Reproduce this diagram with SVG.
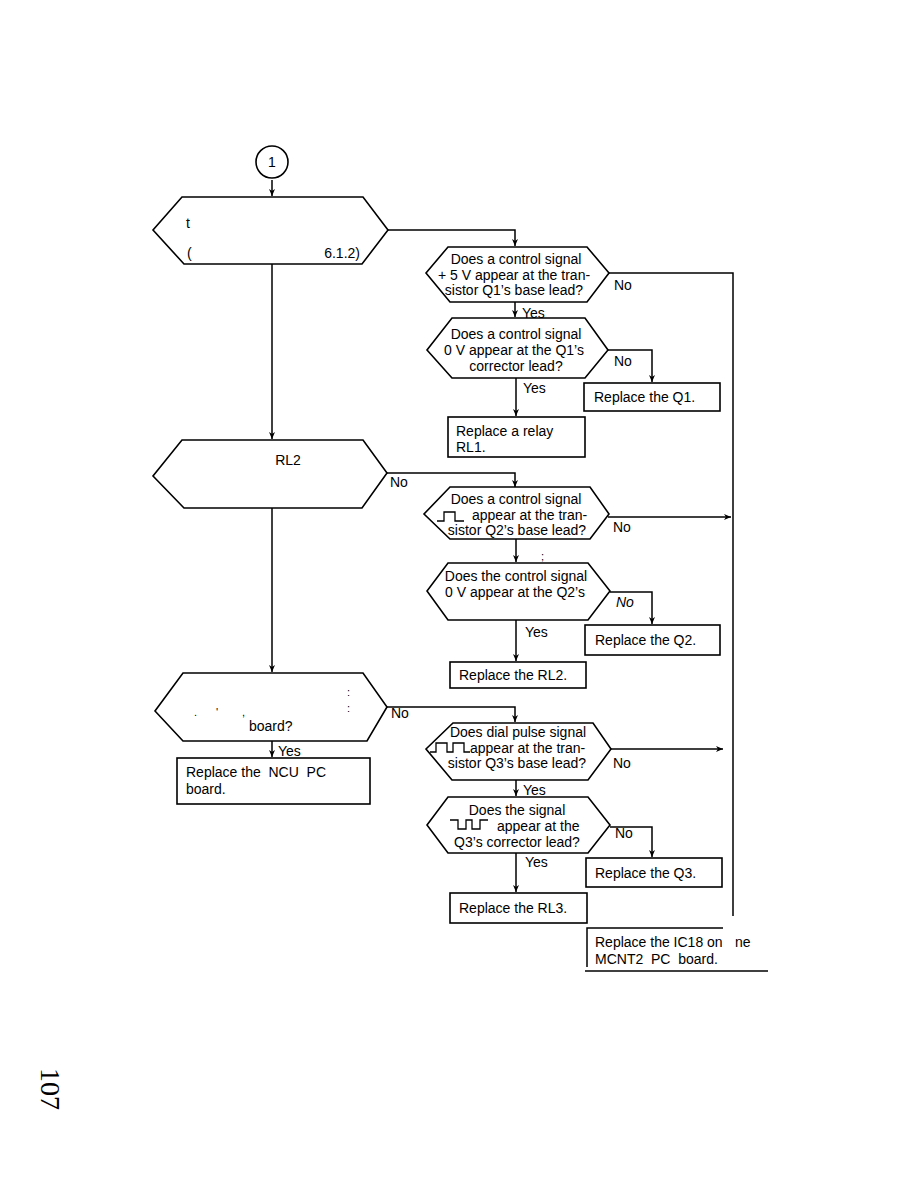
<svg xmlns="http://www.w3.org/2000/svg" width="918" height="1188" viewBox="0 0 918 1188">
<defs>
<marker id="ah" markerWidth="8" markerHeight="8" refX="7" refY="4" orient="auto" markerUnits="userSpaceOnUse">
<path d="M0,1 L7,4 L0,7 L2,4 Z" fill="#000"/>
</marker>
<style>
.s{fill:#fff;stroke:#000;stroke-width:1.6}
.c{fill:none;stroke:#000;stroke-width:1.5}
.w{fill:none;stroke:#000;stroke-width:1.3}
text{font-family:"Liberation Sans","Noto Sans",sans-serif;font-size:14px;fill:#000}
.m{text-anchor:middle}
.sm{font-size:11px}
</style>
</defs>
<rect width="918" height="1188" fill="#fff"/>

<g id="connectors">
<path class="c" d="M272,180 V196" marker-end="url(#ah)"/>
<path class="c" d="M388,230 H515 V246" marker-end="url(#ah)"/>
<path class="c" d="M272,264 V439" marker-end="url(#ah)"/>
<path class="c" d="M608,273 H733 V916"/>
<path class="c" d="M515,302 V317" marker-end="url(#ah)"/>
<path class="c" d="M608,350 H652 V382" marker-end="url(#ah)"/>
<path class="c" d="M516,378 V416" marker-end="url(#ah)"/>
<path class="c" d="M387,473 H515 V487" marker-end="url(#ah)"/>
<path class="c" d="M272,508 V672" marker-end="url(#ah)"/>
<path class="c" d="M608,517 H731" marker-end="url(#ah)"/>
<path class="c" d="M516,539 V562" marker-end="url(#ah)"/>
<path class="c" d="M610,592 H652 V624" marker-end="url(#ah)"/>
<path class="c" d="M516,620 V661" marker-end="url(#ah)"/>
<path class="c" d="M387,707 H515 V722" marker-end="url(#ah)"/>
<path class="c" d="M272,741 V757" marker-end="url(#ah)"/>
<path class="c" d="M610,749 H723" marker-end="url(#ah)"/>
<path class="c" d="M516,780 V796" marker-end="url(#ah)"/>
<path class="c" d="M610,827 H652 V857" marker-end="url(#ah)"/>
<path class="c" d="M516,853 V892" marker-end="url(#ah)"/>
</g>

<g id="start">
<circle class="s" cx="272" cy="162" r="16"/>
<text class="m" x="272" y="167" font-size="13">1</text>
</g>

<g id="check1">
<polygon class="s" points="182,197 363,197 388,230 362,264 184,264 153,230"/>
<text x="186" y="228">t</text>
<text x="187" y="258">(</text>
<text x="360" y="258" text-anchor="end">6.1.2)</text>
</g>

<g id="q1base">
<polygon class="s" points="448,247 587,247 609,273 587,302 450,302 426,273"/>
<text class="m" x="516" y="264">Does a control signal</text>
<text class="m" x="514" y="280">+ 5 V appear at the tran-</text>
<text class="m" x="514" y="295">sistor Q1’s base lead?</text>
<text x="614" y="290">No</text>
<text x="522" y="318">Yes</text>
</g>

<g id="q1coll">
<polygon class="s" points="452,318 585,318 608,350 585,378 452,378 427,350"/>
<text class="m" x="516" y="339">Does a control signal</text>
<text class="m" x="514" y="355">0 V appear at the Q1’s</text>
<text class="m" x="516" y="371">corrector lead?</text>
<text x="614" y="366">No</text>
<text x="523" y="393">Yes</text>
</g>

<g id="repQ1">
<rect class="s" x="584" y="383" width="136" height="28"/>
<text x="594" y="402">Replace the Q1.</text>
</g>

<g id="repRL1">
<rect class="s" x="448" y="417" width="137" height="40"/>
<text x="456" y="436">Replace a relay</text>
<text x="456" y="452">RL1.</text>
</g>

<g id="check2">
<polygon class="s" points="182,440 363,440 387,473 362,508 184,508 153,476"/>
<text class="m" x="288" y="465">RL2</text>
<text x="390" y="487">No</text>
</g>

<g id="q2base">
<polygon class="s" points="450,487 590,487 609,514 590,539 450,539 424,514"/>
<text class="m" x="516" y="504">Does a control signal</text>
<path class="w" d="M437,521 H444 V512 H455 V521 H464"/>
<text x="472" y="520">appear at the tran-</text>
<text class="m" x="517" y="535">sistor Q2’s base lead?</text>
<text x="613" y="532">No</text>
<text x="541" y="560" class="sm">;</text>
</g>

<g id="q2coll">
<polygon class="s" points="448,563 588,563 610,591 588,620 448,620 427,591"/>
<text class="m" x="516" y="581">Does the control signal</text>
<text class="m" x="515" y="597">0 V appear at the Q2’s</text>
<text x="616" y="607" font-style="italic">No</text>
<text x="525" y="637">Yes</text>
</g>

<g id="repQ2">
<rect class="s" x="585" y="625" width="135" height="30"/>
<text x="595" y="645">Replace the Q2.</text>
</g>

<g id="repRL2">
<rect class="s" x="450" y="662" width="136" height="26"/>
<text x="459" y="680">Replace the RL2.</text>
</g>

<g id="check3">
<polygon class="s" points="183,673 363,673 387,707 367,741 183,741 155,711"/>
<text x="347" y="696" class="sm">:</text>
<text x="347" y="712" class="sm">:</text>
<text x="194" y="716" class="sm">.</text>
<text x="216" y="716" class="sm">'</text>
<text x="242" y="716" class="sm">,</text>
<text x="249" y="731">board?</text>
<text x="391" y="718">No</text>
<text x="278" y="756">Yes</text>
</g>

<g id="repNCU">
<rect class="s" x="177" y="758" width="193" height="46"/>
<text x="186" y="777" xml:space="preserve">Replace the  NCU  PC</text>
<text x="186" y="794">board.</text>
</g>

<g id="q3base">
<polygon class="s" points="453,723 593,723 611,749 588,780 452,780 426,749"/>
<text class="m" x="518" y="737">Does dial pulse signal</text>
<path class="w" d="M430,752 H436 V743 H447 V752 H453 V743 H464 V752 H470"/>
<text x="470" y="753">appear at the tran-</text>
<text class="m" x="517" y="768">sistor Q3’s base lead?</text>
<text x="613" y="768">No</text>
<text x="523" y="795">Yes</text>
</g>

<g id="q3coll">
<polygon class="s" points="448,797 588,797 610,825 588,853 448,853 427,825"/>
<text class="m" x="517" y="815">Does the signal</text>
<path class="w" d="M450,820 H458 V829 H466 V820 H472 V829 H480 V820 H488"/>
<text x="497" y="831">appear at the</text>
<text class="m" x="517" y="847">Q3’s corrector lead?</text>
<text x="615" y="838">No</text>
<text x="525" y="867">Yes</text>
</g>

<g id="repQ3">
<rect class="s" x="586" y="858" width="136" height="29"/>
<text x="595" y="878">Replace the Q3.</text>
</g>

<g id="repRL3">
<rect class="s" x="450" y="893" width="137" height="30"/>
<text x="459" y="913">Replace the RL3.</text>
</g>

<g id="repIC18">
<path class="c" d="M723,928 H587 V967"/>
<path class="c" d="M585,971 H768"/>
<text x="595" y="947" font-size="13.5">Replace the  IC18 on<tspan x="735">ne</tspan></text>
<text x="595" y="964" font-size="13.5" xml:space="preserve">MCNT2  PC  board.</text>
</g>

<text transform="translate(41,1068) rotate(90)" style="font-family:'Liberation Serif',serif;font-size:28px">107</text>
</svg>
